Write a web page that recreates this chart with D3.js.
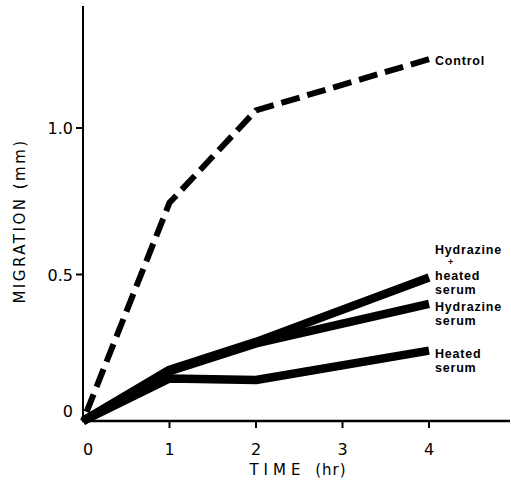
<!DOCTYPE html>
<html>
<head>
<meta charset="utf-8">
<script src="https://cdn.jsdelivr.net/npm/d3@7"></script>
<style>
  body { margin: 0; background: #fff; }
  svg { display: block; }
  .tick-label { font-family: "DejaVu Sans", sans-serif; font-size: 16px; fill: #000; }
  .axis-label { font-family: "DejaVu Sans", sans-serif; font-size: 15px; fill: #000; letter-spacing: 2.5px; }
  .series-label { font-family: "Liberation Sans", Arial, sans-serif; font-size: 12.5px; font-weight: bold; fill: #000; letter-spacing: 0.8px; }
</style>
</head>
<body>
<svg width="511" height="480"></svg>
<script>
// data
const hours = [0, 1, 2, 4];
const control = [0, 0.745, 1.06, 1.235];
const hydrazineHeated = [0, 0.175, 0.27, 0.49];
const hydrazineSerum = [0, 0.17, 0.265, 0.40];
const heatedSerum = [0, 0.145, 0.14, 0.24];

const xTicks = [1, 2, 3, 4];
const yTicks = [0.5, 1.0];

window.onload = () => {
  const svg = d3.select("svg");

  const x = d3.scaleLinear().domain([0, 4]).range([83, 429]);
  const y = d3.scaleLinear().domain([0, 1]).range([421, 128]);

  const line = d3.line()
    .x((d, i) => x(hours[i]))
    .y(d => y(d));

  // axes
  svg.append("line")
    .attr("x1", x(0)).attr("x2", x(0))
    .attr("y1", 6).attr("y2", y(0))
    .attr("stroke", "#000").attr("stroke-width", 2);
  svg.append("line")
    .attr("x1", x(0) - 1).attr("x2", 510)
    .attr("y1", y(0)).attr("y2", y(0))
    .attr("stroke", "#000").attr("stroke-width", 2.5);

  // x ticks
  svg.selectAll(".xtick").data(xTicks).enter().append("line")
    .attr("x1", d => x(d)).attr("x2", d => x(d))
    .attr("y1", y(0)).attr("y2", y(0) + 7)
    .attr("stroke", "#000").attr("stroke-width", 2);
  svg.selectAll(".xlab").data([0].concat(xTicks)).enter().append("text")
    .attr("class", "tick-label")
    .attr("x", d => d === 0 ? x(0) + 5 : x(d))
    .attr("y", 455)
    .attr("text-anchor", "middle")
    .text(d => d);

  // y ticks
  svg.selectAll(".ytick").data(yTicks).enter().append("line")
    .attr("x1", x(0) - 7).attr("x2", x(0))
    .attr("y1", d => y(d)).attr("y2", d => y(d))
    .attr("stroke", "#000").attr("stroke-width", 2);
  svg.selectAll(".ylab").data(yTicks).enter().append("text")
    .attr("class", "tick-label")
    .attr("x", 73)
    .attr("y", d => y(d) + 6)
    .attr("text-anchor", "end")
    .text(d => d.toFixed(1));
  svg.append("text")
    .attr("class", "tick-label")
    .attr("x", 73).attr("y", y(0) - 4)
    .attr("text-anchor", "end")
    .text("0");

  // axis titles
  const xt = svg.append("text")
    .attr("class", "axis-label")
    .attr("x", 298).attr("y", 475)
    .attr("text-anchor", "middle");
  xt.append("tspan").style("letter-spacing", "5px").text("TIME ");
  xt.append("tspan").style("letter-spacing", "1px").text("(hr)");
  svg.append("text")
    .attr("class", "axis-label")
    .attr("transform", "translate(25,221) rotate(-90)")
    .attr("text-anchor", "middle")
    .text("MIGRATION (mm)");

  // series
  const ctrl = svg.append("path")
    .attr("d", line(control))
    .attr("fill", "none")
    .attr("stroke", "#000")
    .attr("stroke-width", 6)
    .attr("stroke-dasharray", "19,8");
  // shift dashes so the line ends on a full dash
  const len = ctrl.node().getTotalLength();
  ctrl.attr("stroke-dashoffset", 19 - (len % 27));

  [hydrazineHeated, hydrazineSerum, heatedSerum].forEach(s => {
    svg.append("path")
      .attr("d", line(s))
      .attr("fill", "none")
      .attr("stroke", "#000")
      .attr("stroke-width", 8.5)
      .attr("stroke-linejoin", "round");
  });

  // labels at line ends (baselines as in the picture)
  const labels = [
    ["Control", 65],
    ["Hydrazine", 254], ["heated", 280], ["serum", 294],
    ["Hydrazine", 311], ["serum", 325],
    ["Heated", 358], ["serum", 372]
  ];
  labels.forEach(([s, yy]) => {
    svg.append("text")
      .attr("class", "series-label")
      .attr("x", 435)
      .attr("y", yy)
      .text(s);
  });
  svg.append("text")
    .attr("class", "series-label")
    .attr("x", 448).attr("y", 265)
    .style("font-size", "9px")
    .text("+");
};
</script>
</body>
</html>
